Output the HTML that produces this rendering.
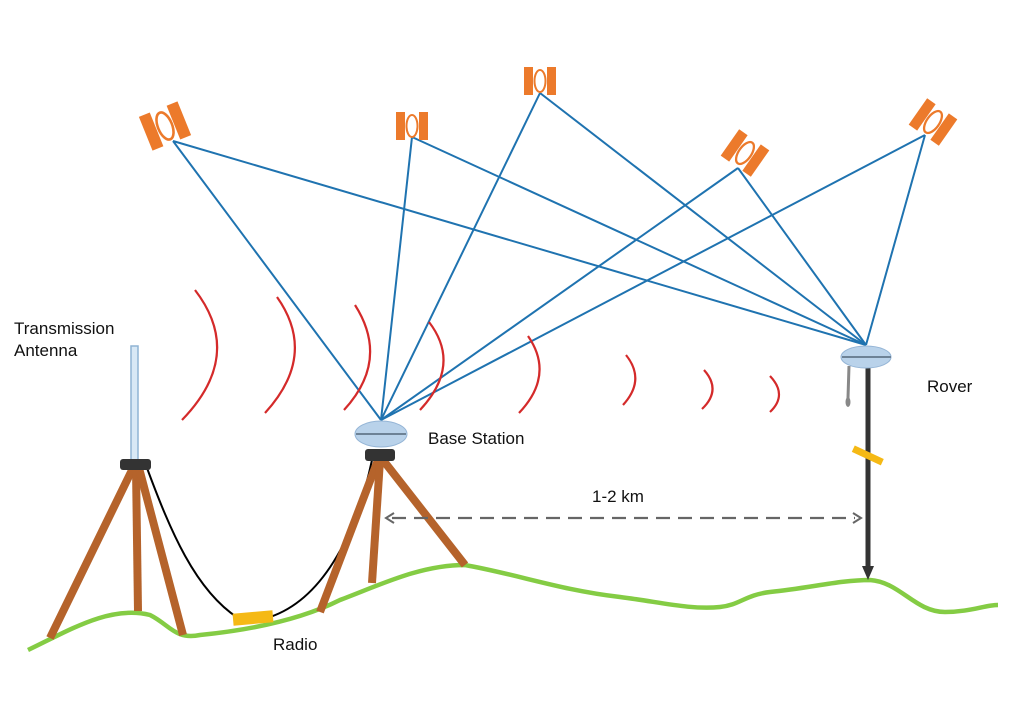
<!DOCTYPE html>
<html><head><meta charset="utf-8"><style>
html,body{margin:0;padding:0;background:#fff;}
svg{display:block;font-family:"Liberation Sans",sans-serif;}
</style></head><body>
<svg width="1024" height="705" viewBox="0 0 1024 705" xmlns="http://www.w3.org/2000/svg">
<defs>
<g id="sat">
<rect x="-16" y="-14" width="9" height="28" fill="#ec7a2b"/>
<rect x="7" y="-14" width="9" height="28" fill="#ec7a2b"/>
<ellipse cx="0" cy="0" rx="5.5" ry="11" fill="none" stroke="#ec7a2b" stroke-width="2"/>
</g>
</defs>
<g stroke="#1f73b0" stroke-width="2" fill="none">
<path d="M173,141 L381,420 M173,141 L866,345"/>
<path d="M412,137 L381,420 M412,137 L866,345"/>
<path d="M540,93 L381,420 M540,93 L866,345"/>
<path d="M738,168 L381,420 M738,168 L866,345"/>
<path d="M925,135 L381,420 M925,135 L866,345"/>
</g>
<use href="#sat" transform="translate(165,126) rotate(-22) scale(1.3)"/>
<use href="#sat" transform="translate(412,126)"/>
<use href="#sat" transform="translate(540,81)"/>
<use href="#sat" transform="translate(745,153) rotate(35) scale(1.15)"/>
<use href="#sat" transform="translate(933,122) rotate(35) scale(1.15)"/>
<g stroke="#d42a2a" stroke-width="2.2" fill="none">
<path d="M195,290 Q245,355 182,420"/>
<path d="M277,297 Q318,355 265,413"/>
<path d="M355,305 Q390,360 344,410"/>
<path d="M429,322 Q462,365 420,410"/>
<path d="M528,336 Q555,375 519,413"/>
<path d="M626,355 Q646,380 623,405"/>
<path d="M704,370 Q722,390 702,409"/>
<path d="M770,376 Q788,395 770,412"/>
</g>
<path d="M28,650 C70,630 110,605 150,615 C170,625 175,640 200,635 C250,630 300,620 340,600 C380,585 420,565 465,565 C520,575 560,590 620,597 C660,602 690,610 720,607 C740,605 745,595 770,592 C810,588 840,580 870,580 C900,582 915,612 945,612 C970,612 985,605 998,605" stroke="#84cc44" stroke-width="4.5" fill="none"/>
<rect x="131" y="346" width="7" height="114" fill="#d8e8f5" stroke="#8fb4d4" stroke-width="1.5"/>
<path d="M147,468 C170,530 195,590 238,618" stroke="#000" stroke-width="2" fill="none"/>
<path d="M270,617 C320,600 355,540 372,460" stroke="#000" stroke-width="2" fill="none"/>
<rect x="233" y="612" width="40" height="12" fill="#f5b915" transform="rotate(-5 253 618)"/>
<g stroke="#b5632b" stroke-width="8">
<line x1="133" y1="468" x2="50" y2="638"/>
<line x1="136" y1="468" x2="138" y2="611"/>
<line x1="139" y1="468" x2="183" y2="635"/>
</g>
<rect x="120" y="459" width="31" height="11" rx="3" fill="#333"/>
<g stroke="#b5632b" stroke-width="8">
<line x1="378" y1="460" x2="320" y2="612"/>
<line x1="380" y1="460" x2="372" y2="583"/>
<line x1="383" y1="460" x2="465" y2="565"/>
</g>
<rect x="365" y="449" width="30" height="12" rx="3" fill="#333"/>
<ellipse cx="381" cy="434" rx="26" ry="13" fill="#b9d2ea" stroke="#95b5d6" stroke-width="1"/>
<line x1="356" y1="434" x2="406" y2="434" stroke="#6d8296" stroke-width="2"/>
<line x1="868" y1="365" x2="868" y2="566" stroke="#333" stroke-width="5"/>
<polygon points="862,566 874,566 868,580" fill="#333"/>
<rect x="852" y="452" width="32" height="7" fill="#f5b915" transform="rotate(25 868 455)"/>
<line x1="849" y1="366" x2="848" y2="398" stroke="#888" stroke-width="3"/>
<ellipse cx="848" cy="402" rx="2.5" ry="5" fill="#888"/>
<ellipse cx="866" cy="357" rx="25" ry="11" fill="#b9d2ea" stroke="#95b5d6" stroke-width="1"/>
<line x1="842" y1="357" x2="891" y2="357" stroke="#6d8296" stroke-width="2"/>
<line x1="392" y1="518" x2="855" y2="518" stroke="#666" stroke-width="2.2" stroke-dasharray="14,8"/>
<polyline points="394,513 386,518 394,523" stroke="#666" stroke-width="2" fill="none"/>
<polyline points="853,513 861,518 853,523" stroke="#666" stroke-width="2" fill="none"/>
<g font-size="17" fill="#111">
<text x="14" y="334">Transmission</text>
<text x="14" y="356">Antenna</text>
<text x="428" y="444">Base Station</text>
<text x="927" y="392">Rover</text>
<text x="592" y="502">1-2 km</text>
<text x="273" y="650">Radio</text>
</g>
</svg>
</body></html>
